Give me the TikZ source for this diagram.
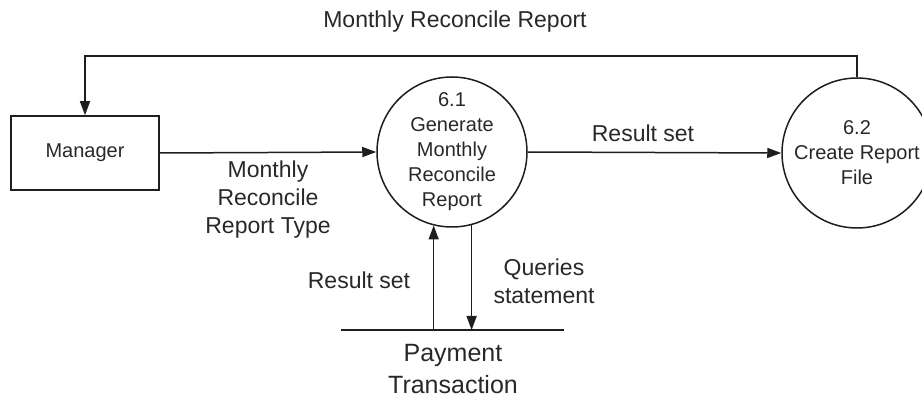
\documentclass[tikz,border=0pt]{standalone}
\usepackage{fontspec}
\setmainfont{Liberation Sans}
\usetikzlibrary{arrows.meta}
\definecolor{ink}{RGB}{30,30,30}
\definecolor{txt}{RGB}{40,40,40}
\begin{document}
\begin{tikzpicture}[x=1pt,y=-1pt,
  line width=1.5pt, draw=ink,
  arr/.style={-{Triangle[length=14pt,width=10pt]}, draw=ink},
  proc/.style={circle, draw=ink, minimum size=150pt, inner sep=0pt, align=center, text=txt,
    font=\fontsize{20}{25}\selectfont},
  ent/.style={rectangle, draw=ink, minimum width=148pt, minimum height=74pt, inner sep=0pt,
    text=txt, font=\fontsize{20}{25}\selectfont},
  lbl/.style={align=center, text=txt, inner sep=0pt, font=\fontsize{23}{28}\selectfont},
  storelbl/.style={align=center, text=txt, inner sep=0pt, font=\fontsize{25}{32}\selectfont}]
\useasboundingbox (0,0) rectangle (922,406);
\node[ent] (mgr) at (85,153) {Manager};
\node[proc] (p61) at (452,152) {6.1\\Generate\\Monthly\\Reconcile\\Report};
\node[proc] (p62) at (857,153) {6.2\\Create Report\\File};
\node[minimum width=221pt, minimum height=0pt, inner sep=0pt] (store) at (452.5,330) {};
\draw[line width=1.5pt] (store.west) -- (store.east);
\coordinate (tl) at (85,56);
\coordinate (tr) at (857,56);
% connectors
\draw[arr] (p62.north) -- (tr) -- (tl) -- (mgr.north);
\draw[arr] (mgr.east) -- (p61.west);
\draw[arr] (p61.east) -- (p62.west);
\draw[arr] (p61.256 |- store.center) -- (p61.256);
\draw[arr] (p61.285) -- (p61.285 |- store.center);
% labels
\node[lbl] (l1) at (455,22) {Monthly Reconcile Report};
\node[lbl] (l2) at (268,200) {Monthly\\Reconcile\\Report Type};
\node[lbl] (l3) at (643,133) {Result set};
\node[lbl] (l4) at (359,280) {Result set};
\node[lbl] (l5) at (544,281) {Queries\\statement};
\node[storelbl] (l6) at (453,369) {Payment\\Transaction};
\end{tikzpicture}
\end{document}
